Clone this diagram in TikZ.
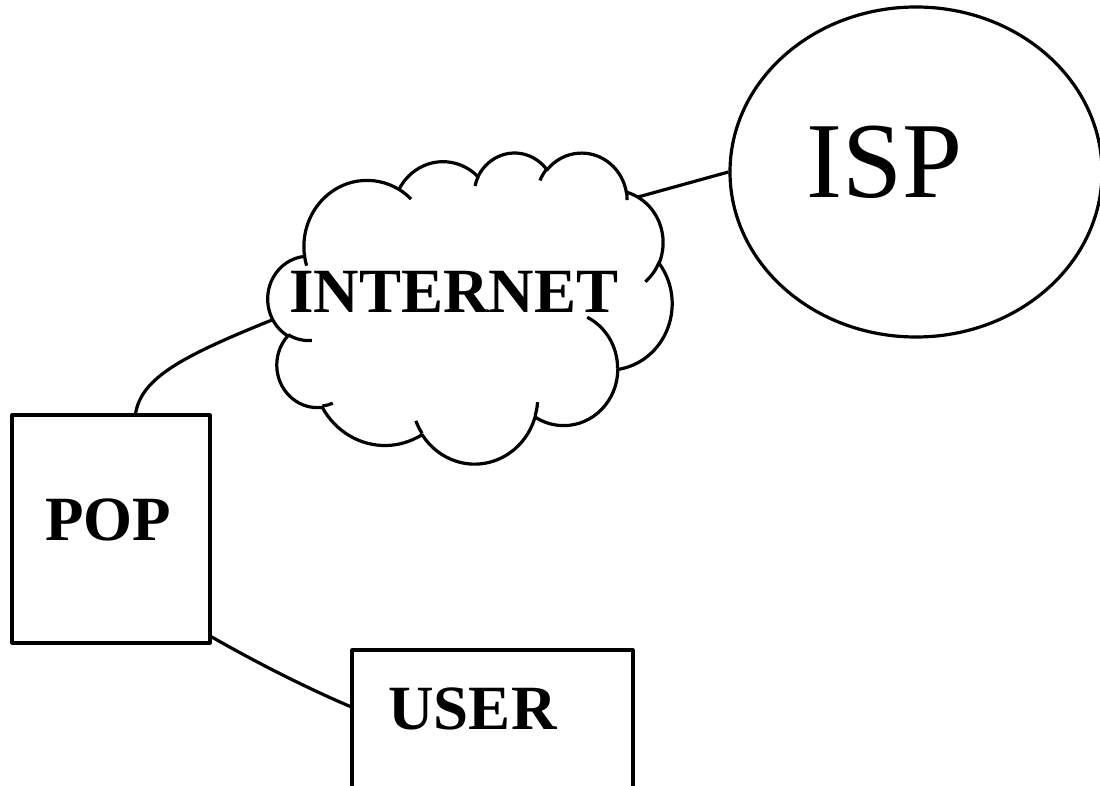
\documentclass[tikz,border=0pt]{standalone}
\usepackage{fontspec}
\setmainfont{Liberation Serif}
\usetikzlibrary{shapes.geometric}

\tikzset{
    box/.style={draw, rectangle, inner sep=0pt},
    lbl/.style={font=\fontsize{63}{70}\selectfont\bfseries},
    carc/.style n args={4}{insert path={arc[x radius=#1, y radius=#2,
        start angle={atan2(#1*sin(#3),#2*cos(#3))},
        delta angle={mod(atan2(#1*sin(#3+#4),#2*cos(#3+#4))-atan2(#1*sin(#3),#2*cos(#3))+720,360)}]}}
}

\begin{document}
\begin{tikzpicture}[x=1pt, y=-1pt, line width=3.2pt, line join=round]
    \useasboundingbox (0,0) rectangle (1100,786);

    % ISP
    \node[draw, ellipse, minimum width=372pt, minimum height=330pt, inner sep=0pt,
        label={[name=isptxt, font=\fontsize{108}{120}\selectfont, xshift=-31pt, yshift=10pt]center:ISP}]
        (isp) at (916,172) {};

    % Internet cloud
    \begin{scope}[shift={(268,152)}, x=0.093519pt, y=-0.071991pt]
        \draw (390,1437)
            [carc={675.3}{919.0}{-190.4875}{123.7805}]
            [carc={533.3}{726.7}{-144.1024}{89.9452}]
            [carc={436.5}{594.5}{-145.8079}{99.7230}]
            [carc={485.7}{659.5}{-130.9861}{117.2417}]
            [carc={533.3}{727.3}{-78.7089}{109.0269}]
            [carc={677.5}{922.0}{-46.2673}{130.2690}]
            [carc={578.5}{786.7}{0.6250}{114.0333}]
            [carc={675.2}{921.5}{22.4516}{115.1726}]
            [carc={772.0}{1054.3}{66.2426}{75.7110}]
            [carc={436.0}{591.8}{-274.9421}{146.7356}]
            [carc={434.5}{594.5}{-246.8285}{152.5189}] -- cycle;
        % inner folds
        \foreach \px/\py/\rx/\ry/\st/\sw in {
            469.3/2617.7/434.5/594.5/86.7420/26.4295,
            692.8/3489.9/436.0/591.8/73.6105/11.4475,
            1647.8/3909.0/675.2/921.5/137.6242/14.0811,
            2882.7/3475.1/675.2/921.5/6.4533/15.9984,
            3412.9/2295.4/578.5/786.7/-70.2924/70.9174,
            4179.8/1535.4/533.3/727.3/30.3180/27.7515,
            3832.4/542.6/485.7/659.5/-13.7443/14.8589,
            2907.8/395.2/485.7/659.5/-149.1815/18.1954,
            2214.1/472.0/436.5/594.5/-163.4943/17.6864,
            1400.0/519.2/675.3/919.0/-66.7070/12.3194,
            412.7/1578.9/675.3/919.0/157.6544/11.8582} {
            \draw (\px,\py) [carc={\rx}{\ry}{\st}{\sw}];
        }
    \end{scope}
    \node[lbl] (net) at (454,292) {INTERNET};
    \coordinate (cloudR) at (638,197);
    \coordinate (cloudL) at (272,320);

    % POP and USER
    \node[box, minimum width=198pt, minimum height=228pt,
        label={[name=poptxt, lbl, xshift=-3pt, yshift=9pt]center:POP}] (pop) at (111,529) {};
    \node[box, minimum width=281pt, minimum height=200pt,
        label={[name=usertxt, lbl, xshift=-20pt, yshift=41pt]center:USER}] (user) at (492.5,750) {};

    % links
    \draw (cloudR) -- (isp.west);
    \draw (pop.78) .. controls +(6,-35) and +(-92,37) .. (cloudL);
    \draw (pop.-47) .. controls +(40,23) and +(-47,-20) .. (user.163);
\end{tikzpicture}
\end{document}
